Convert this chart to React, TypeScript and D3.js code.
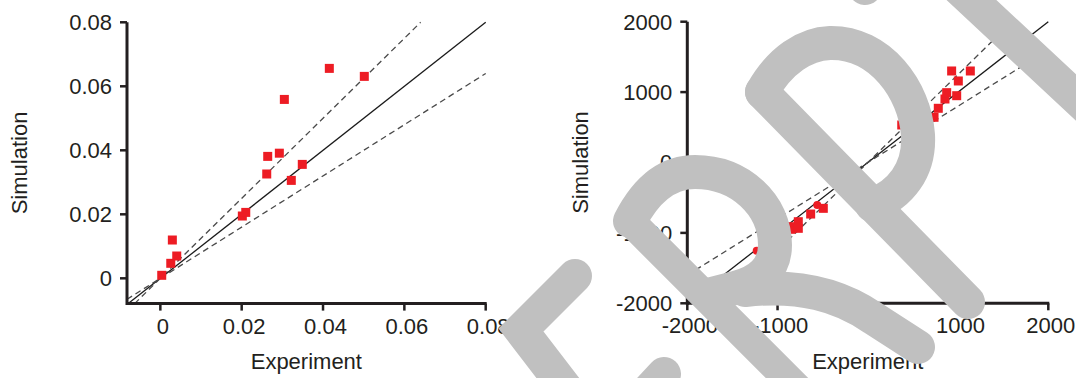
import React from "react";
import * as d3 from "d3";

// ---- data ----
const leftExperiment = [0.00034, 0.00256, 0.00295, 0.00403, 0.02016, 0.021, 0.02616, 0.0264, 0.02926, 0.03049, 0.0322, 0.0349, 0.04155, 0.05015];
const leftSimulation = [0.00094, 0.00469, 0.01197, 0.00697, 0.01947, 0.0206, 0.0326, 0.0381, 0.0391, 0.0559, 0.0306, 0.0356, 0.0656, 0.0631];

const rightSquareExperiment = [-862, -851, -770, -770, -633, -493, 376, 734, 781, 855, 874, 985, 1003, 929, 1136];
const rightSquareSimulation = [-912, -949, -841, -935, -732, -651, 533, 642, 770, 902, 992, 949, 1158, 1300, 1300];
const rightCircleExperiment = [-1231, -560];
const rightCircleSimulation = [-1253, -604];

const leftTicks = [0, 0.02, 0.04, 0.06, 0.08];
const leftTickLabels = ["0", "0.02", "0.04", "0.06", "0.08"];
const rightTicks = [-2000, -1000, 0, 1000, 2000];
const rightTickLabels = ["-2000", "-1000", "0", "1000", "2000"];

const ratioLines = [1, 1.25, 0.8];

const xTitle = "Experiment";
const yTitle = "Simulation";

const INK = "#231f20";
const RED = "#ed1c24";
const FONT = "'Liberation Sans', Arial, sans-serif";

type PanelProps = {
  xDomain: [number, number];
  yDomain: [number, number];
  xRange: [number, number];
  yRange: [number, number];
  ticks: number[];
  tickLabels: string[];
  sqX: number[];
  sqY: number[];
  cX?: number[];
  cY?: number[];
  titleX: number;
};

function clipLine(k: number, xd: [number, number], yd: [number, number]) {
  const lo = Math.max(xd[0], yd[0] / k);
  const hi = Math.min(xd[1], yd[1] / k);
  return [lo, hi];
}

function Panel(p: PanelProps) {
  const x = d3.scaleLinear().domain(p.xDomain).range(p.xRange);
  const y = d3.scaleLinear().domain(p.yDomain).range(p.yRange);
  const x0 = p.xRange[0];
  const yb = p.yRange[0];
  const sq = 9;
  const lineGen = d3.line<[number, number]>().x((d) => x(d[0])).y((d) => y(d[1]));
  return (
    <g>
      {ratioLines.map((k, i) => {
        const [a, b] = clipLine(k, p.xDomain, p.yDomain);
        return (
          <path
            key={"l" + i}
            d={lineGen([[a, a * k], [b, b * k]]) || ""}
            fill="none"
            stroke={i === 0 ? "#1a1a1a" : "#4a4a4a"}
            strokeWidth={1.3}
            strokeDasharray={i === 0 ? undefined : "6,4"}
          />
        );
      })}
      {p.sqX.map((v, i) => (
        <rect key={"s" + i} x={x(v) - sq / 2} y={y(p.sqY[i]) - sq / 2} width={sq} height={sq} fill={RED} />
      ))}
      {(p.cX || []).map((v, i) => (
        <circle key={"c" + i} cx={x(v)} cy={y((p.cY || [])[i])} r={4} fill={RED} />
      ))}
      {/* axes */}
      <line x1={x0} x2={x0} y1={p.yRange[1]} y2={yb + 1.5} stroke={INK} strokeWidth={3} />
      <line x1={x0} x2={p.xRange[1] + 1} y1={yb} y2={yb} stroke={INK} strokeWidth={3} />
      {p.ticks.map((t, i) => (
        <g key={"yt" + i}>
          <line x1={x0 - 7} x2={x0} y1={y(t)} y2={y(t)} stroke={INK} strokeWidth={2.5} />
          <text x={x0 - 15} y={y(t)} dy="0.36em" textAnchor="end" fontSize={22} fontFamily={FONT} fill={INK}>
            {p.tickLabels[i]}
          </text>
        </g>
      ))}
      {p.ticks.map((t, i) => (
        <g key={"xt" + i}>
          <line x1={x(t)} x2={x(t)} y1={yb} y2={yb + 7} stroke={INK} strokeWidth={2.5} />
          <text x={x(t) + 2.5} y={yb + 30} textAnchor="middle" fontSize={22} fontFamily={FONT} fill={INK}>
            {p.tickLabels[i]}
          </text>
        </g>
      ))}
      <text x={(p.xRange[0] + p.xRange[1]) / 2} y={369} textAnchor="middle" fontSize={22} fontFamily={FONT} fill={INK}>
        {xTitle}
      </text>
      <text
        transform={`translate(${p.titleX},${(p.yRange[0] + p.yRange[1]) / 2}) rotate(-90)`}
        textAnchor="middle"
        fontSize={22}
        fontFamily={FONT}
        fill={INK}
      >
        {yTitle}
      </text>
    </g>
  );
}

function Watermark() {
  const common = {
    fill: "none",
    stroke: "#c0c0c0",
    strokeWidth: 34,
    strokeLinecap: "round" as const,
    strokeLinejoin: "round" as const,
  };
  return (
    <g>
      {/* E */}
      <path d="M575,276 L521,330 L590,420" {...common} strokeLinejoin="miter" />
      <path d="M612,430 L664,374" {...common} />
      {/* R */}
      <path d="M630,221 L800,391" {...common} strokeWidth={30} />
      <path d="M630,221 C648,186 670,172 695,172 C740,172 775,205 775,245 C775,268 760,282 735,288 L712,294" {...common} />
      <path d="M745,290 C800,284 840,295 873,318 L918,347" {...common} />
      {/* P */}
      <path d="M762,92 L968,302" {...common} />
      <path d="M762,92 C780,60 805,44 830,43 C880,42 915,90 918,135 C920,170 900,195 872,205" {...common} />
      {/* top pieces */}
      <path d="M840,-40 L865,-12" {...common} />
      <path d="M950,-20 L1100,120" {...common} />
    </g>
  );
}

export default function App() {
  return (
    <svg
      width={1076}
      height={378}
      viewBox="0 0 1076 378"
      style={{ position: "absolute", left: 0, top: 0, background: "#fff", display: "block" }}
    >
      <rect x={0} y={0} width={1076} height={378} fill="#fff" />
      <Panel
        xDomain={[-0.0082, 0.08]}
        yDomain={[-0.0079, 0.08]}
        xRange={[127, 485.7]}
        yRange={[303.6, 22.3]}
        ticks={leftTicks}
        tickLabels={leftTickLabels}
        sqX={leftExperiment}
        sqY={leftSimulation}
        titleX={26.5}
      />
      <Panel
        xDomain={[-2000, 2000]}
        yDomain={[-2000, 2000]}
        xRange={[687.3, 1048.3]}
        yRange={[303.3, 21.7]}
        ticks={rightTicks}
        tickLabels={rightTickLabels}
        sqX={rightSquareExperiment}
        sqY={rightSquareSimulation}
        cX={rightCircleExperiment}
        cY={rightCircleSimulation}
        titleX={588}
      />
      <Watermark />
    </svg>
  );
}
